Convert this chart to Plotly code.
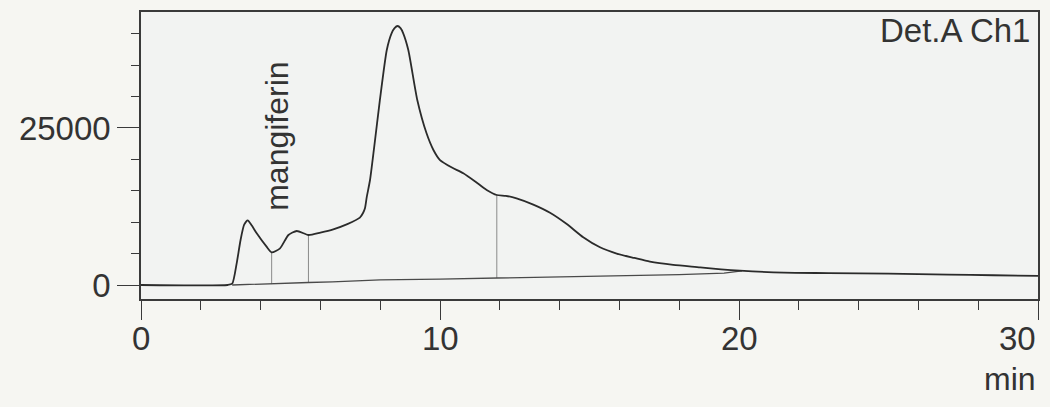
import plotly.graph_objects as go

# Chromatogram signal (time in min, detector response)
sig_t = [0, 2.9, 3.05, 3.2, 3.33, 3.45, 3.57, 3.7, 3.87, 4.2, 4.37, 4.65, 4.93, 5.21, 5.6, 6.0, 6.43,
         6.9, 7.32, 7.43, 7.49, 7.55, 7.66, 7.8, 7.99, 8.22, 8.38, 8.48, 8.58, 8.68, 8.77, 8.94, 9.24,
         9.55, 9.78, 10.0, 10.4, 10.78, 11.2, 11.56, 11.9, 12.2, 12.56, 13.12, 13.68, 14.24, 14.79,
         15.35, 15.91, 16.5, 17.02, 17.8, 18.7, 19.4, 20.03, 21.5, 23.0, 25.0, 27.0, 28.5, 30.0]
sig_y = [0, 0, 200, 3450, 7170, 9600, 10300, 9500, 8230, 6100, 5200, 5840, 7960, 8600, 7960, 8350, 8870,
         9700, 10720, 11500, 12210, 14000, 16720, 22000, 29460, 37420, 40080, 40900, 41240, 40900, 40080, 37420, 29460,
         24150, 21500, 19900, 18700, 17790, 16400, 15130, 14330, 14200, 13800, 12800, 11500, 9700, 7600,
         6000, 5000, 4300, 3710, 3200, 2820, 2500, 2280, 1960, 1900, 1800, 1650, 1550, 1450]

# Integration baseline
base_t = [3.05, 4.4, 5.6, 6.4, 8.0, 10.0, 11.9, 13.0, 16.0, 18.0, 19.5, 20.1]
base_y = [0, 150, 400, 500, 800, 950, 1100, 1250, 1420, 1650, 1900, 2250]

# Peak separation markers
mark_t = [4.37, 5.6, 11.9]
mark_top = [5200, 7960, 14330]
mark_bot = [150, 400, 1100]

x_major = [0, 10, 20, 30]
x_labels = ["0", "10", "20", "30"]
y_major = [0, 25000]
y_labels = ["0", "25000"]

FONT = "Liberation Sans, Arial, sans-serif"
INK = "#2b2b2b"

mx, my = [], []
for t, top, bot in zip(mark_t, mark_top, mark_bot):
    mx += [t, t, None]
    my += [bot, top, None]

fig = go.Figure()
fig.add_trace(go.Scatter(x=mx, y=my, mode="lines", line=dict(color="#8a8a8a", width=1), hoverinfo="skip"))
fig.add_trace(go.Scatter(x=base_t, y=base_y, mode="lines", line=dict(color="#4a4a4a", width=1.3), hoverinfo="skip"))
fig.add_trace(go.Scatter(x=sig_t, y=sig_y, mode="lines", line=dict(color=INK, width=1.8, shape="spline", smoothing=0.6)))

fig.update_layout(
    width=1050, height=407,
    margin=dict(l=141, r=10, t=12, b=108),
    paper_bgcolor="#f6f6f2", plot_bgcolor="#f2f3f2",
    showlegend=False,
    font=dict(family=FONT, size=32, color="#333333"),
)
fig.update_xaxes(
    range=[0, 30], showgrid=False, zeroline=False,
    showline=True, linecolor="#3a3a3a", linewidth=1.5, mirror=True,
    tickmode="array", tickvals=x_major, ticks="outside", ticklen=19, tickwidth=1.3, tickcolor="#3a3a3a",
    showticklabels=False,
    minor=dict(dtick=2, tick0=0, ticks="outside", ticklen=9, tickwidth=1.3, tickcolor="#3a3a3a"),
)
fig.update_yaxes(
    range=[-2230, 43470], showgrid=False, zeroline=False,
    showline=True, linecolor="#3a3a3a", linewidth=1.5, mirror=True,
    tickmode="array", tickvals=y_major, ticktext=y_labels, ticks="outside", ticklen=22, tickwidth=1.3,
    tickcolor="#3a3a3a", tickfont=dict(size=33, color="#333333"),
    minor=dict(dtick=5000, tick0=0, ticks="outside", ticklen=8, tickwidth=1.3, tickcolor="#3a3a3a"),
)

for v, lab in zip(x_major, x_labels):
    fig.add_annotation(x=v, y=-0.136, xref="x", yref="paper", text=lab, showarrow=False,
                       xanchor="right" if v == 30 else "center", yanchor="middle",
                       font=dict(size=33, color="#333333"))
fig.add_annotation(x=30, y=-0.279, xref="x", yref="paper", text="min", showarrow=False,
                   xanchor="right", yanchor="middle", font=dict(size=32, color="#333333"))
fig.add_annotation(x=0.993, y=0.935, xref="paper", yref="paper", text="Det.A Ch1", showarrow=False,
                   xanchor="right", yanchor="middle", font=dict(size=33, color="#333333"))
fig.add_annotation(x=4.56, y=23650, xref="x", yref="y", text="mangiferin", showarrow=False,
                   textangle=-90, xanchor="center", yanchor="middle", font=dict(size=32, color="#333333"))

fig.write_html("out.html")
